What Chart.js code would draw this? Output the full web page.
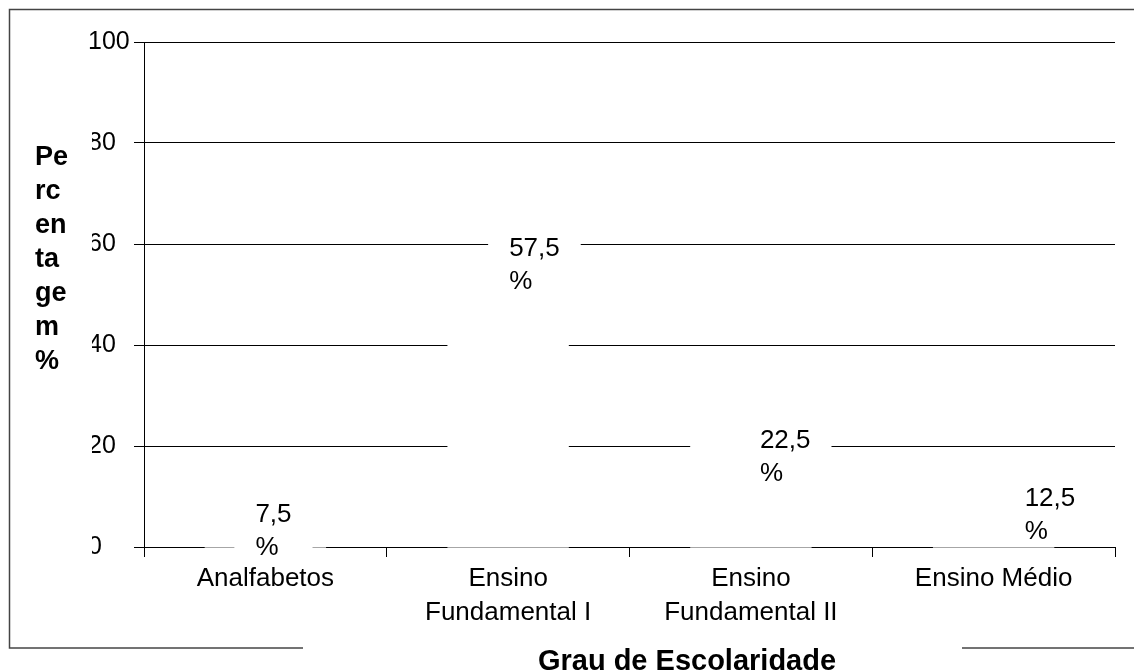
<!DOCTYPE html>
<html lang="pt">
<head>
<meta charset="UTF-8">
<title>Grau de Escolaridade</title>
<script src="https://cdn.jsdelivr.net/npm/chart.js"></script>
<style>
  html, body { margin: 0; padding: 0; background: #fff; }
  #wrap { width: 1134px; height: 672px; position: relative; }
</style>
</head>
<body>
<div id="wrap"><canvas id="chart" width="1134" height="672"></canvas></div>
<script>
// data
const categories = ['Analfabetos', ['Ensino', 'Fundamental I'], ['Ensino', 'Fundamental II'], 'Ensino Médio'];
const percentages = [7.5, 57.5, 22.5, 12.5];
const yTicks = [0, 20, 40, 60, 80, 100];
const yTitleLines = ['Pe', 'rc', 'en', 'ta', 'ge', 'm', '%'];
const xTitle = 'Grau de Escolaridade';

const FONT = "'Liberation Sans', Arial, sans-serif";

// small nudges of the value labels relative to the bar top / centre
const labelNudge = [[-10, -6], [1, -20], [9, -4], [31, 3]];

const decor = {
    id: 'decor',
    beforeDraw(chart) {
        const ctx = chart.ctx;
        ctx.save();
        ctx.strokeStyle = '#444';
        ctx.lineWidth = 1.5;
        ctx.strokeRect(9.5, 9.5, 1140, 638.5);
        ctx.restore();
    },
    afterDatasetsDraw(chart) {
        const ctx = chart.ctx;
        const meta = chart.getDatasetMeta(0);
        ctx.save();
        // the white bars also wash out the axis line below them
        meta.data.forEach(bar => {
            ctx.fillStyle = 'rgba(255,255,255,0.65)';
            ctx.fillRect(bar.x - bar.width / 2, bar.base, bar.width, 1.5);
        });
        ctx.font = '26px ' + FONT;
        ctx.textBaseline = 'alphabetic';
        ctx.textAlign = 'left';
        meta.data.forEach((bar, i) => {
            const txt = percentages[i].toFixed(1).replace('.', ',');
            const left = bar.x + labelNudge[i][0];
            const capTop = bar.y + labelNudge[i][1];
            const w = ctx.measureText(txt).width;
            ctx.fillStyle = '#fff';
            ctx.fillRect(left - 21, capTop - 8, w + 42, 56);
            ctx.fillStyle = '#000';
            ctx.fillText(txt, left, capTop + 19);
            ctx.fillText('%', left, capTop + 52);
        });
        ctx.restore();
    },
    afterDraw(chart) {
        const ctx = chart.ctx;
        ctx.save();
        // y title box (hides the left part of the tick labels)
        ctx.fillStyle = '#fff';
        ctx.fillRect(20, 128, 72, 432);
        ctx.fillStyle = '#000';
        ctx.font = 'bold 27px ' + FONT;
        ctx.textAlign = 'left';
        ctx.textBaseline = 'alphabetic';
        yTitleLines.forEach((s, i) => ctx.fillText(s, 35, 165 + i * 34));
        // x title box (breaks the outer frame)
        ctx.fillStyle = '#fff';
        ctx.fillRect(303, 640, 659, 32);
        ctx.fillStyle = '#000';
        ctx.font = 'bold 29px ' + FONT;
        ctx.textAlign = 'center';
        ctx.fillText(xTitle, 687, 670);
        ctx.restore();
    }
};

new Chart(document.getElementById('chart'), {
    type: 'bar',
    data: {
        labels: categories,
        datasets: [{
            data: percentages,
            backgroundColor: '#ffffff',
            borderWidth: 0,
            categoryPercentage: 1.0,
            barPercentage: 0.5
        }]
    },
    options: {
        responsive: false,
        animation: false,
        events: [],
        layout: { padding: { left: 88, top: 42, right: 19, bottom: 0 } },
        plugins: { legend: { display: false }, tooltip: { enabled: false } },
        scales: {
            x: {
                grid: { drawOnChartArea: false, drawTicks: true, tickLength: 10, color: '#000', offset: true },
                border: { display: true, color: '#000', width: 1 },
                ticks: { color: '#000', font: { family: FONT, size: 26, lineHeight: 1.3 }, padding: 5, maxRotation: 0, autoSkip: false },
                afterFit(scale) { scale.height = 125; }
            },
            y: {
                min: 0,
                max: 100,
                afterBuildTicks(scale) { scale.ticks = yTicks.map(v => ({ value: v })); },
                grid: { color: '#000', lineWidth: 1, tickLength: 10, drawTicks: true },
                border: { display: true, color: '#000', width: 1 },
                ticks: { color: '#000', font: { family: FONT, size: 25 }, crossAlign: 'far', padding: 4 },
                afterFit(scale) { scale.width = 56; }
            }
        }
    },
    plugins: [decor]
});
</script>
</body>
</html>
